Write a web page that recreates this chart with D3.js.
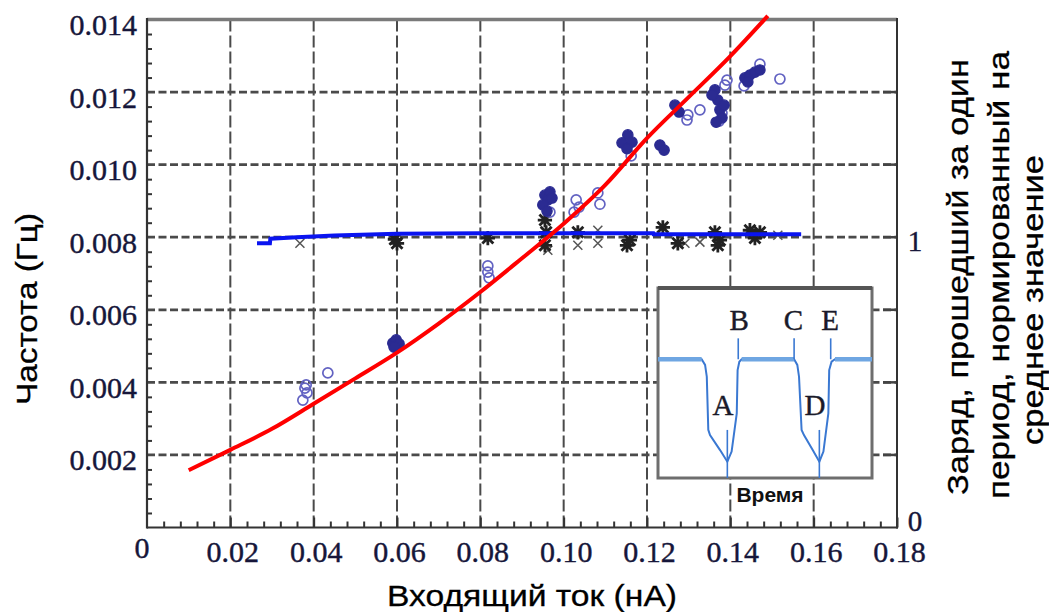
<!DOCTYPE html>
<html>
<head>
<meta charset="utf-8">
<script src="https://cdn.jsdelivr.net/npm/d3@7"></script>
<style>
body { margin: 0; background: #fff; }
</style>
</head>
<body>
<div id="chart"></div>
<script>
// fitted curve, frequency (Hz) vs input current (nA)
var fitX = [0.010, 0.020, 0.030, 0.040, 0.050, 0.060, 0.070, 0.080, 0.090, 0.100, 0.110, 0.120, 0.130, 0.140, 0.149];
var fitY = [0.00158, 0.00214, 0.00272, 0.00341, 0.00411, 0.00482, 0.00562, 0.00649, 0.00742, 0.00837, 0.00944, 0.01073, 0.01186, 0.01299, 0.01410];

// normalised charge per period (right axis)
var chargeX = [0.0264, 0.0295, 0.0296, 0.036, 0.045, 0.060, 0.080, 0.100, 0.1215, 0.1216, 0.140, 0.157];
var chargeY = [0.979, 0.979, 0.995, 1.000, 1.006, 1.012, 1.014, 1.014, 1.014, 1.010, 1.010, 1.010];

// measured frequency, filled circles
var freqFilledX = [0.0590, 0.0598, 0.0605, 0.0593, 0.0955, 0.0967, 0.0962, 0.0950, 0.0960, 0.0972,
  0.1154, 0.1140, 0.1164, 0.1152, 0.1231, 0.1241, 0.1267, 0.1277,
  0.1363, 0.1370, 0.1375, 0.1380, 0.1366, 0.1385, 0.1356, 0.1435, 0.1447, 0.1459, 0.1471, 0.1442];
var freqFilledY = [0.00508, 0.00517, 0.00506, 0.00497, 0.00916, 0.00925, 0.00903, 0.00889, 0.00872, 0.00908,
  0.01082, 0.01060, 0.01062, 0.01044, 0.01054, 0.01040, 0.01164, 0.01145,
  0.01206, 0.01178, 0.01151, 0.01129, 0.01117, 0.01164, 0.01192, 0.01239, 0.01247, 0.01255, 0.01261, 0.01228];

// measured frequency, open circles
var freqOpenX = [0.0379, 0.0384, 0.0374, 0.0382, 0.0434, 0.0818, 0.0818, 0.0821, 0.0967,
  0.1030, 0.1037, 0.1025, 0.1082, 0.1087, 0.1162, 0.1298, 0.1327, 0.1296,
  0.1387, 0.1392, 0.1380, 0.1373, 0.1471, 0.1433, 0.1519];
var freqOpenY = [0.00384, 0.00371, 0.00351, 0.00393, 0.00426, 0.00721, 0.00704, 0.00688, 0.00869,
  0.00903, 0.00883, 0.00869, 0.00922, 0.00891, 0.01024, 0.01137, 0.01151, 0.01123,
  0.01219, 0.01233, 0.01142, 0.01120, 0.01277, 0.01217, 0.01236];

// measured charge, dense crosses
var chargeDenseX = [0.0595, 0.0600, 0.0818, 0.0955, 0.0958, 0.0955, 0.1034, 0.1152, 0.1159, 0.1238,
  0.1274, 0.1363, 0.1375, 0.1370, 0.1447, 0.1459, 0.1471];
var chargeDenseY = [0.993, 0.979, 0.997, 1.059, 1.017, 0.972, 1.017, 0.972, 0.990, 1.034,
  0.979, 1.017, 0.990, 0.972, 1.024, 0.997, 1.017];

// measured charge, light crosses
var chargeLightX = [0.0367, 0.0962, 0.1034, 0.1082, 0.1082, 0.1291, 0.1327, 0.1514];
var chargeLightY = [0.979, 0.955, 0.972, 1.024, 0.979, 0.979, 0.983, 1.007];

var xTicks = [0.02, 0.04, 0.06, 0.08, 0.10, 0.12, 0.14, 0.16, 0.18];
var yTicks = [0.002, 0.004, 0.006, 0.008, 0.010, 0.012, 0.014];

// inset: voltage trace over time (both 0..1 in the inset box)
var traceT = [0, 0.204, 0.220, 0.228, 0.235, 0.243, 0.290, 0.324, 0.344, 0.368, 0.372, 0.380, 0.391,
  0.636, 0.651, 0.659, 0.671, 0.682, 0.723, 0.754, 0.773, 0.796, 0.800, 0.811, 0.827, 1];
var traceV = [0.625, 0.625, 0.595, 0.533, 0.253, 0.226, 0.147, 0.086, 0.139, 0.340, 0.568, 0.612, 0.625,
  0.625, 0.595, 0.533, 0.253, 0.226, 0.147, 0.086, 0.139, 0.340, 0.568, 0.612, 0.625, 0.625];
var markNames = ["A", "B", "C", "E", "D"];
var markT = [0.324, 0.375, 0.636, 0.807, 0.754];
var markFrom = [0.253, 0.625, 0.625, 0.625, 0.253];
var markTo = [0, 0.735, 0.735, 0.735, 0];
var labelT = [0.304, 0.379, 0.633, 0.804, 0.734];
var labelV = [0.332, 0.779, 0.779, 0.779, 0.332];

var width = 1049, height = 612;
var svg = d3.select("#chart").append("svg").attr("width", width).attr("height", height);
svg.append("rect").attr("width", width).attr("height", height).attr("fill", "#fff");

var x = d3.scaleLinear().domain([0, 0.18]).range([147, 897]);
var y = d3.scaleLinear().domain([0, 0.014]).range([527.5, 19.5]);
var yR = d3.scaleLinear().domain([0, 1.75]).range([527.5, 19.5]);

var serif = "'Liberation Serif', 'Times New Roman', serif";
var sans = "'Liberation Sans', Arial, sans-serif";
var tickColor = "#16163a";

// grid
svg.selectAll(".vgrid").data(xTicks.slice(0, -1)).enter().append("line")
  .attr("x1", d => x(d)).attr("x2", d => x(d)).attr("y1", y(0)).attr("y2", y(0.014))
  .attr("stroke", "#4a4a4a").attr("stroke-width", 2).attr("stroke-dasharray", "12,4");
svg.selectAll(".hgrid").data(yTicks.slice(0, -1)).enter().append("line")
  .attr("x1", x(0)).attr("x2", x(0.18)).attr("y1", d => y(d)).attr("y2", d => y(d))
  .attr("stroke", "#4a4a4a").attr("stroke-width", 2.8).attr("stroke-dasharray", "8,3.5");

// axes ticks
var minorX = d3.range(1, 45).map(i => i * 0.004).filter(v => Math.abs(v / 0.02 - Math.round(v / 0.02)) > 1e-6);
svg.append("g").attr("transform", "translate(0," + y(0) + ")")
  .call(d3.axisBottom(x).tickValues(minorX).tickSize(-6).tickFormat(""))
  .call(g => g.select(".domain").remove())
  .selectAll("line").attr("stroke", "#333").attr("stroke-width", 2);

var xAxis = svg.append("g").attr("transform", "translate(0," + y(0) + ")")
  .call(d3.axisBottom(x).tickValues(xTicks).tickSize(-10).tickPadding(13).tickFormat(d3.format(".2f")));
xAxis.select(".domain").remove();
xAxis.selectAll("line").attr("stroke", "#333").attr("stroke-width", 2);
xAxis.selectAll("text").attr("font-family", serif).attr("font-size", 30).attr("fill", tickColor)
  .attr("stroke", tickColor).attr("stroke-width", 0.4).attr("dx", 2);

var minorY = d3.range(1, 36).map(i => i * 0.0004).filter(v => Math.abs(v / 0.002 - Math.round(v / 0.002)) > 1e-6);
svg.append("g").attr("transform", "translate(" + x(0) + ",0)")
  .call(d3.axisLeft(y).tickValues(minorY).tickSize(-5).tickFormat(""))
  .call(g => g.select(".domain").remove())
  .selectAll("line").attr("stroke", "#333").attr("stroke-width", 2);

var yAxis = svg.append("g").attr("transform", "translate(" + x(0) + ",0)")
  .call(d3.axisLeft(y).tickValues(yTicks).tickSize(0).tickPadding(10).tickFormat(d3.format(".3f")));
yAxis.select(".domain").remove();
yAxis.selectAll("text").attr("font-family", serif).attr("font-size", 30).attr("fill", tickColor)
  .attr("stroke", tickColor).attr("stroke-width", 0.4).attr("dy", 15);

// right axis ticks
svg.selectAll(".rtick").data(yTicks.slice(0, -1)).enter().append("line")
  .attr("x1", x(0.18) - 14).attr("x2", x(0.18)).attr("y1", d => y(d)).attr("y2", d => y(d))
  .attr("stroke", "#444").attr("stroke-width", 2.5);
svg.selectAll(".rlab").data([0, 1]).enter().append("text")
  .attr("x", 915).attr("y", d => yR(d) + (d === 0 ? 3 : 14))
  .attr("text-anchor", "middle").attr("font-family", serif).attr("font-size", 29).attr("fill", tickColor)
  .attr("stroke", tickColor).attr("stroke-width", 0.4)
  .text(d => d);
svg.append("text").attr("x", 142).attr("y", 558).attr("text-anchor", "middle")
  .attr("font-family", serif).attr("font-size", 30).attr("fill", tickColor)
  .attr("stroke", tickColor).attr("stroke-width", 0.4).text("0");

// frame
svg.append("line").attr("x1", x(0)).attr("x2", x(0.18)).attr("y1", y(0.014)).attr("y2", y(0.014))
  .attr("stroke", "#7a7a7a").attr("stroke-width", 3.5);
svg.append("line").attr("x1", x(0)).attr("x2", x(0)).attr("y1", y(0.014) - 1.5).attr("y2", y(0) + 1)
  .attr("stroke", "#333").attr("stroke-width", 2.2);
svg.append("line").attr("x1", x(0)).attr("x2", x(0.18) + 1).attr("y1", y(0)).attr("y2", y(0))
  .attr("stroke", "#333").attr("stroke-width", 2.2);
svg.append("line").attr("x1", x(0.18)).attr("x2", x(0.18)).attr("y1", y(0.014) - 1.5).attr("y2", y(0) + 1)
  .attr("stroke", "#333").attr("stroke-width", 2);

// inset
var ix = d3.scaleLinear().domain([0, 1]).range([658, 872]);
var iy = d3.scaleLinear().domain([0, 1]).range([478, 288]);
var inset = svg.append("g");
inset.append("rect").attr("x", ix(0)).attr("y", iy(1)).attr("width", ix(1) - ix(0)).attr("height", iy(0) - iy(1))
  .attr("fill", "#fff").attr("stroke", "#6e6e6e").attr("stroke-width", 3);
inset.append("line").attr("x1", ix(0)).attr("x2", ix(1)).attr("y1", iy(1)).attr("y2", iy(1))
  .attr("stroke", "#555").attr("stroke-width", 4);
var trace = traceT.map((t, i) => [t, traceV[i]]);
inset.append("path").attr("d", d3.line().x(d => ix(d[0])).y(d => iy(d[1]))(trace))
  .attr("fill", "none").attr("stroke", "#3a78d2").attr("stroke-width", 2);
var flats = [];
for (var i = 1; i < trace.length; i++) {
  if (trace[i][1] === trace[i - 1][1]) flats.push([trace[i - 1], trace[i]]);
}
inset.selectAll(".flat").data(flats).enter().append("path")
  .attr("d", d => d3.line().x(p => ix(p[0])).y(p => iy(p[1]))(d))
  .attr("stroke", "#6fa6e2").attr("stroke-width", 4.5).attr("fill", "none");
inset.selectAll(".mark").data(markT).enter().append("line")
  .attr("x1", d => ix(d)).attr("x2", d => ix(d))
  .attr("y1", (d, i) => iy(markFrom[i])).attr("y2", (d, i) => iy(markTo[i]))
  .attr("stroke", "#3a78d2").attr("stroke-width", 1.6);
inset.selectAll(".mlab").data(markNames).enter().append("text")
  .attr("x", (d, i) => ix(labelT[i])).attr("y", (d, i) => iy(labelV[i]))
  .attr("text-anchor", "middle").attr("font-family", serif).attr("font-size", 29).attr("fill", "#1a1a2a")
  .attr("stroke", "#1a1a2a").attr("stroke-width", 0.4)
  .text(d => d);
inset.append("text").attr("x", 770).attr("y", 502).attr("text-anchor", "middle")
  .attr("font-family", sans).attr("font-weight", "bold").attr("font-size", 21).attr("fill", "#111")
  .text("Время");

// markers
function crossPath(s) {
  return "M" + (-s) + "," + (-s) + "L" + s + "," + s + "M" + (-s) + "," + s + "L" + s + "," + (-s);
}
function starPath(s) {
  var r = s * 1.3;
  return crossPath(s) + "M0," + (-r) + "L0," + r + "M" + (-r) + ",0L" + r + ",0";
}
svg.selectAll(".xl").data(chargeLightX).enter().append("path")
  .attr("transform", (d, i) => "translate(" + x(d) + "," + yR(chargeLightY[i]) + ")")
  .attr("d", crossPath(4.5)).attr("stroke", "#555").attr("stroke-width", 1.5).attr("fill", "none");
svg.selectAll(".xd").data(chargeDenseX).enter().append("path")
  .attr("transform", (d, i) => "translate(" + x(d) + "," + yR(chargeDenseY[i]) + ")")
  .attr("d", starPath(5.5)).attr("stroke", "#222").attr("stroke-width", 2.8).attr("fill", "none");
svg.selectAll(".co").data(freqOpenX).enter().append("circle")
  .attr("cx", d => x(d)).attr("cy", (d, i) => y(freqOpenY[i])).attr("r", 5)
  .attr("fill", "none").attr("stroke", "#6262c2").attr("stroke-width", 1.7);
svg.selectAll(".cf").data(freqFilledX).enter().append("circle")
  .attr("cx", d => x(d)).attr("cy", (d, i) => y(freqFilledY[i])).attr("r", 5.2)
  .attr("fill", "#2b2b92").attr("stroke", "#2b2b92").attr("stroke-width", 1.2);

// lines
svg.append("path")
  .attr("d", d3.line().x(d => x(d[0])).y(d => yR(d[1]))(chargeX.map((v, i) => [v, chargeY[i]])))
  .attr("fill", "none").attr("stroke", "#0a14f0").attr("stroke-width", 4);
svg.append("path")
  .attr("d", d3.line().curve(d3.curveMonotoneX).x(d => x(d[0])).y(d => y(d[1]))(fitX.map((v, i) => [v, fitY[i]])))
  .attr("fill", "none").attr("stroke", "#ff0000").attr("stroke-width", 4);

// titles
svg.append("text").attr("transform", "translate(37,309) rotate(-90)").attr("text-anchor", "middle")
  .attr("font-family", sans).attr("font-size", 30).attr("fill", "#000")
  .attr("stroke", "#000").attr("stroke-width", 0.3)
  .attr("textLength", 192).attr("lengthAdjust", "spacingAndGlyphs").text("Частота (Гц)");
svg.append("text").attr("x", 532).attr("y", 606).attr("text-anchor", "middle")
  .attr("font-family", sans).attr("font-size", 30).attr("fill", "#000")
  .attr("stroke", "#000").attr("stroke-width", 0.3)
  .attr("textLength", 290).attr("lengthAdjust", "spacingAndGlyphs").text("Входящий ток (нА)");
var rightTitle = ["Заряд, прошедший за один", "период, нормированный на", "среднее значение"];
var rightX = [968, 1009, 1043];
var rightY = [277, 275, 300];
var rightLen = [436, 448, 290];
svg.selectAll(".rt").data(rightTitle).enter().append("text")
  .attr("transform", (d, i) => "translate(" + rightX[i] + "," + rightY[i] + ") rotate(-90)")
  .attr("text-anchor", "middle").attr("font-family", sans).attr("font-size", 30).attr("fill", "#000")
  .attr("stroke", "#000").attr("stroke-width", 0.3)
  .attr("textLength", (d, i) => rightLen[i]).attr("lengthAdjust", "spacingAndGlyphs")
  .text(d => d);
</script>
</body>
</html>
